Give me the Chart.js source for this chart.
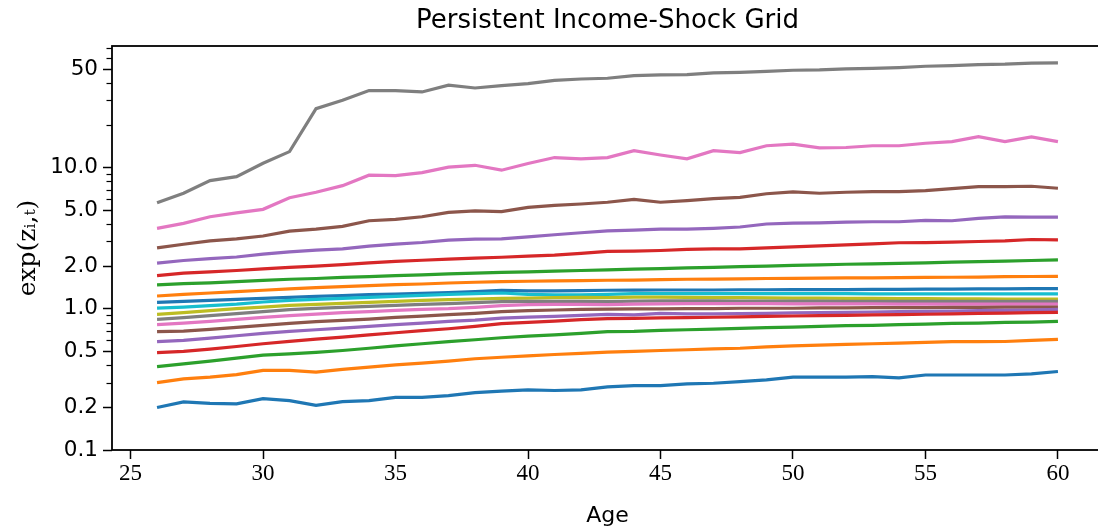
<!DOCTYPE html>
<html>
<head>
<meta charset="utf-8">
<script src="https://cdn.jsdelivr.net/npm/chart.js@4/dist/chart.umd.min.js"></script>
<style>
  html, body { margin: 0; padding: 0; background: #fff; overflow: hidden; }
  #wrap { position: relative; width: 1110px; height: 531px; }
</style>
</head>
<body>
<div id="wrap"><canvas id="c"></canvas></div>
<script>
// ---------- data ----------
const ages = [26,27,28,29,30,31,32,33,34,35,36,37,38,39,40,41,42,43,44,45,46,47,48,49,50,51,52,53,54,55,56,57,58,59,60];

const grid01 = [0.200,0.219,0.214,0.212,0.231,0.224,0.207,0.220,0.224,0.236,0.236,0.243,0.255,0.261,0.267,0.264,0.267,0.280,0.286,0.286,0.294,0.297,0.305,0.314,0.328,0.328,0.328,0.331,0.324,0.340,0.340,0.340,0.340,0.346,0.360];
const grid02 = [0.300,0.319,0.328,0.342,0.366,0.366,0.356,0.372,0.386,0.401,0.412,0.426,0.443,0.454,0.465,0.475,0.483,0.493,0.499,0.507,0.513,0.521,0.526,0.538,0.547,0.553,0.560,0.566,0.572,0.578,0.585,0.585,0.587,0.597,0.607];
const grid03 = [0.390,0.408,0.426,0.447,0.470,0.480,0.491,0.507,0.526,0.547,0.566,0.585,0.604,0.624,0.641,0.655,0.670,0.689,0.692,0.703,0.711,0.718,0.727,0.735,0.743,0.751,0.760,0.764,0.772,0.780,0.789,0.793,0.802,0.805,0.815];
const grid04 = [0.490,0.499,0.518,0.541,0.566,0.588,0.610,0.631,0.655,0.677,0.700,0.723,0.751,0.785,0.802,0.819,0.838,0.852,0.856,0.862,0.866,0.872,0.878,0.883,0.890,0.894,0.900,0.905,0.911,0.916,0.922,0.928,0.933,0.939,0.944];
const grid05 = [0.585,0.597,0.620,0.645,0.670,0.692,0.711,0.730,0.751,0.773,0.793,0.815,0.833,0.860,0.874,0.884,0.899,0.914,0.905,0.930,0.920,0.920,0.925,0.930,0.935,0.940,0.945,0.950,0.955,0.960,0.965,0.970,0.975,0.980,0.990];
const grid06 = [0.689,0.695,0.715,0.739,0.763,0.789,0.811,0.829,0.846,0.871,0.889,0.910,0.929,0.955,0.971,0.981,0.992,0.997,1.000,1.000,1.005,1.005,1.010,1.010,1.010,1.015,1.015,1.020,1.020,1.020,1.025,1.025,1.030,1.030,1.030];
const grid07 = [0.772,0.793,0.815,0.842,0.870,0.895,0.918,0.940,0.955,0.976,0.992,1.003,1.025,1.054,1.071,1.076,1.076,1.071,1.080,1.085,1.090,1.090,1.090,1.090,1.085,1.085,1.085,1.085,1.080,1.080,1.080,1.080,1.080,1.080,1.080];
const grid08 = [0.842,0.866,0.895,0.924,0.955,0.987,1.008,1.025,1.042,1.059,1.076,1.089,1.107,1.125,1.130,1.130,1.130,1.125,1.135,1.140,1.140,1.140,1.135,1.135,1.135,1.135,1.130,1.130,1.130,1.130,1.130,1.130,1.130,1.130,1.130];
const grid09 = [0.914,0.940,0.971,1.003,1.030,1.059,1.076,1.094,1.112,1.130,1.148,1.162,1.174,1.187,1.193,1.201,1.207,1.201,1.210,1.210,1.205,1.200,1.200,1.195,1.190,1.190,1.185,1.185,1.180,1.180,1.175,1.175,1.170,1.170,1.170];
const grid10 = [1.013,1.030,1.054,1.080,1.118,1.149,1.168,1.187,1.207,1.227,1.247,1.268,1.282,1.295,1.268,1.254,1.254,1.268,1.280,1.280,1.280,1.280,1.280,1.280,1.280,1.280,1.280,1.275,1.275,1.275,1.275,1.275,1.275,1.275,1.275];
const grid11 = [1.112,1.130,1.149,1.168,1.187,1.207,1.227,1.241,1.261,1.274,1.289,1.303,1.325,1.354,1.339,1.339,1.347,1.354,1.356,1.360,1.360,1.360,1.365,1.365,1.370,1.370,1.370,1.375,1.375,1.380,1.380,1.385,1.385,1.390,1.390];
const grid12 = [1.233,1.268,1.295,1.325,1.354,1.383,1.414,1.438,1.462,1.486,1.500,1.525,1.543,1.560,1.569,1.577,1.586,1.594,1.600,1.610,1.620,1.625,1.630,1.640,1.645,1.650,1.655,1.660,1.665,1.670,1.675,1.680,1.690,1.695,1.700];
const grid13 = [1.48,1.51,1.53,1.56,1.59,1.62,1.64,1.67,1.69,1.72,1.74,1.77,1.79,1.81,1.83,1.85,1.87,1.89,1.91,1.93,1.95,1.97,1.99,2.01,2.03,2.05,2.07,2.08,2.10,2.12,2.14,2.16,2.18,2.20,2.22];
const grid14 = [1.72,1.79,1.83,1.87,1.92,1.97,2.01,2.06,2.12,2.17,2.21,2.25,2.29,2.32,2.36,2.40,2.47,2.55,2.56,2.59,2.64,2.66,2.66,2.70,2.75,2.79,2.84,2.89,2.94,2.95,2.97,3.00,3.03,3.10,3.08];
const grid15 = [2.11,2.20,2.27,2.33,2.44,2.53,2.61,2.66,2.78,2.87,2.95,3.07,3.12,3.13,3.24,3.35,3.46,3.57,3.61,3.67,3.67,3.72,3.80,3.99,4.05,4.07,4.12,4.14,4.14,4.24,4.21,4.38,4.49,4.47,4.47];
const grid16 = [2.70,2.87,3.03,3.13,3.28,3.55,3.67,3.84,4.21,4.31,4.49,4.83,4.95,4.88,5.24,5.41,5.53,5.69,5.97,5.69,5.84,6.03,6.17,6.54,6.73,6.59,6.70,6.76,6.76,6.88,7.10,7.34,7.34,7.39,7.15];
const grid17 = [3.72,4.03,4.49,4.79,5.07,6.13,6.70,7.46,8.85,8.79,9.23,10.1,10.4,9.6,10.7,11.8,11.55,11.8,13.2,12.3,11.55,13.2,12.8,14.3,14.7,13.8,13.9,14.3,14.3,14.9,15.3,16.6,15.3,16.5,15.3];
const grid18 = [5.65,6.59,8.10,8.64,10.76,13.0,26.2,30.0,35.2,35.2,34.4,38.4,36.7,38.1,39.4,41.6,42.5,43.0,44.9,45.4,45.7,47.0,47.4,48.2,49.0,49.3,50.1,50.6,51.2,52.3,52.9,53.8,54.1,55.0,55.3];

const xTicks = [25,30,35,40,45,50,55,60];
const yTicks = [0.1,0.2,0.5,1,2,5,10,50];
const yTickLabels = ['0.1','0.2','0.5','1.0','2.0','5.0','10.0','50'];
const yMinorTicks = [0.3,0.4,0.6,0.7,0.8,0.9,3,4,6,7,8,9,20,30,40,60,70];

// ---------- styles ----------
const palette = ['#1f77b4','#ff7f0e','#2ca02c','#d62728','#9467bd','#8c564b','#e377c2','#7f7f7f','#bcbd22','#17becf'];
const allSeries = [grid01,grid02,grid03,grid04,grid05,grid06,grid07,grid08,grid09,grid10,grid11,grid12,grid13,grid14,grid15,grid16,grid17,grid18];

const datasets = allSeries.map((s, i) => ({
  label: 'grid ' + (i + 1),
  data: ages.map((a, j) => ({x: a, y: s[j]})),
  borderColor: palette[i % 10],
  backgroundColor: palette[i % 10],
  borderWidth: 3.2,
  pointRadius: 0,
  tension: 0,
  fill: false
}));

const framePlugin = {
  id: 'frame',
  afterDatasetsDraw(chart) {
    const {ctx, chartArea: a, scales} = chart;
    ctx.save();
    ctx.strokeStyle = '#000';
    ctx.lineWidth = 1.2;
    yMinorTicks.forEach(v => {
      const py = Math.round(scales.y.getPixelForValue(v)) + 0.5;
      ctx.beginPath();
      ctx.moveTo(a.left, py);
      ctx.lineTo(a.left - 5.5, py);
      ctx.stroke();
    });
    ctx.lineWidth = 1.8;
    ctx.strokeRect(a.left, a.top, a.right - a.left, a.bottom - a.top);
    ctx.restore();
  }
};

new Chart(document.getElementById('c'), {
  type: 'line',
  data: { datasets },
  plugins: [framePlugin],
  options: {
    responsive: true,
    maintainAspectRatio: false,
    animation: false,
    layout: { padding: { left: 0, right: 7, top: 0, bottom: 0 } },
    plugins: {
      legend: { display: false },
      tooltip: { enabled: false },
      title: {
        display: true,
        fullSize: false,
        text: 'Persistent Income-Shock Grid',
        color: '#000',
        font: { family: 'DejaVu Sans', size: 26, weight: 'normal', lineHeight: 1.2 },
        padding: { top: 6, bottom: 8.8 }
      }
    },
    scales: {
      x: {
        type: 'linear',
        min: 24.3,
        max: 61.7,
        afterBuildTicks(scale) { scale.ticks = xTicks.map(v => ({value: v})); },
        afterFit(scale) { scale.height = 81; },
        grid: { display: true, drawOnChartArea: false, tickLength: 9, tickWidth: 1.5, tickColor: '#000' },
        border: { display: false },
        ticks: {
          color: '#000',
          padding: 1,
          maxRotation: 0,
          font: { family: 'Liberation Serif', size: 23 },
          callback: v => String(v)
        },
        title: {
          display: true,
          text: 'Age',
          color: '#000',
          font: { family: 'DejaVu Sans', size: 22 },
          padding: { top: 0, bottom: 2 }
        }
      },
      y: {
        type: 'logarithmic',
        min: 0.1,
        max: 72.8,
        afterBuildTicks(scale) { scale.ticks = yTicks.map(v => ({value: v})); },
        afterFit(scale) { scale.width = 112; },
        grid: { display: true, drawOnChartArea: false, tickLength: 9, tickWidth: 1.5, tickColor: '#000' },
        border: { display: false },
        ticks: {
          color: '#000',
          padding: 5,
          font: { family: 'DejaVu Sans', size: 21.5 },
          callback: function(v) {
            const k = yTicks.findIndex(t => Math.abs(t - v) < 1e-9);
            return k >= 0 ? yTickLabels[k] : '';
          }
        },
        title: {
          display: true,
          text: 'exp(zᵢ,ₜ)',
          color: '#000',
          font: { family: 'DejaVu Serif', size: 25 },
          padding: { top: 13, bottom: 0 }
        }
      }
    }
  }
});
</script>
</body>
</html>
